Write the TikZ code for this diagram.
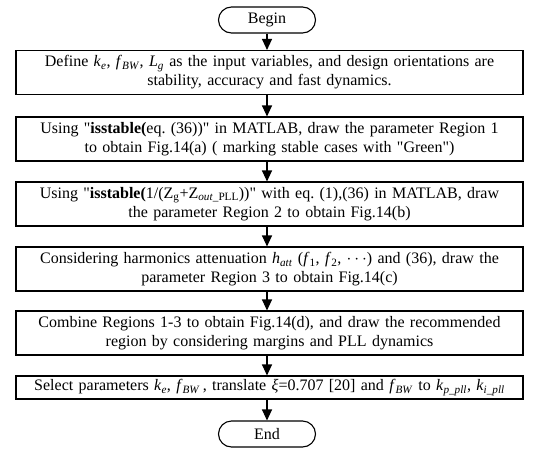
\documentclass[tikz,border=0pt]{standalone}
\usepackage{fontspec}
\setmainfont{Liberation Serif}[Ligatures=TeXOff]
\usetikzlibrary{arrows.meta}
\newcommand{\vsub}[2]{\textit{#1}\textsubscript{\textit{#2}}}
\frenchspacing

\begin{document}
\begin{tikzpicture}[x=1pt,y=1pt,
    every node/.style={font=\fontsize{16}{19}\selectfont},
    stepbox/.style={draw, line width=1.1pt, text width=503pt, inner xsep=2pt,
      inner ysep=2pt, minimum height=44pt, align=center},
    termbox/.style={draw, line width=1.1pt, rounded corners=13pt,
      minimum width=97pt, minimum height=26pt, inner sep=0pt},
    flow/.style={line width=1.1pt, -{Triangle[width=10pt,length=11pt]}}]
  \useasboundingbox (0,0) rectangle (538,-458);
  % start and end
  \node[termbox] (begin) at (267,-20) {Begin};
  \node[termbox] (stop) at (267,-434) {End};
  % steps
  \node[stepbox] (define) at (269.5,-72.5) {Define \vsub{k}{e}, \vsub{f}{BW}, \vsub{L}{g} as the input variables, and design orientations are\\ stability, accuracy and fast dynamics.};
  \node[stepbox] (regiona) at (269.5,-139) {Using "\textbf{isstable(}eq. (36))" in MATLAB, draw the parameter Region 1\\ to obtain Fig.14(a) ( marking stable cases with "Green")};
  \node[stepbox] (regionb) at (269.5,-204) {Using "\textbf{isstable(}1/(Z\textsubscript{g}+Z\textsubscript{\textit{out}\_PLL}))" with eq. (1),(36) in MATLAB, draw\\ the parameter Region 2 to obtain Fig.14(b)};
  \node[stepbox] (regionc) at (269.5,-269) {Considering harmonics attenuation \vsub{h}{att} (\textit{f}\textsubscript{1}, \textit{f}\textsubscript{2}, $\cdots$) and (36), draw the\\ parameter Region 3 to obtain Fig.14(c)};
  \node[stepbox] (combine) at (269.5,-333) {Combine Regions 1-3 to obtain Fig.14(d), and draw the recommended\\ region by considering margins and PLL dynamics};
  \node[stepbox, minimum height=23pt] (select) at (269.5,-387.5) {Select parameters \vsub{k}{e}, \vsub{f}{BW}\,, translate \textit{ξ}=0.707 [20] and \vsub{f}{BW} to \vsub{k}{p\_pll}, \vsub{k}{i\_pll}};
  % arrows
  \draw[flow] (begin) -- (begin |- define.north);
  \draw[flow] (define.south -| begin) -- (begin |- regiona.north);
  \draw[flow] (regiona.south -| begin) -- (begin |- regionb.north);
  \draw[flow] (regionb.south -| begin) -- (begin |- regionc.north);
  \draw[flow] (regionc.south -| begin) -- (begin |- combine.north);
  \draw[flow] (combine.south -| begin) -- (begin |- select.north);
  \draw[flow] (select.south -| begin) -- (stop);
\end{tikzpicture}
\end{document}
